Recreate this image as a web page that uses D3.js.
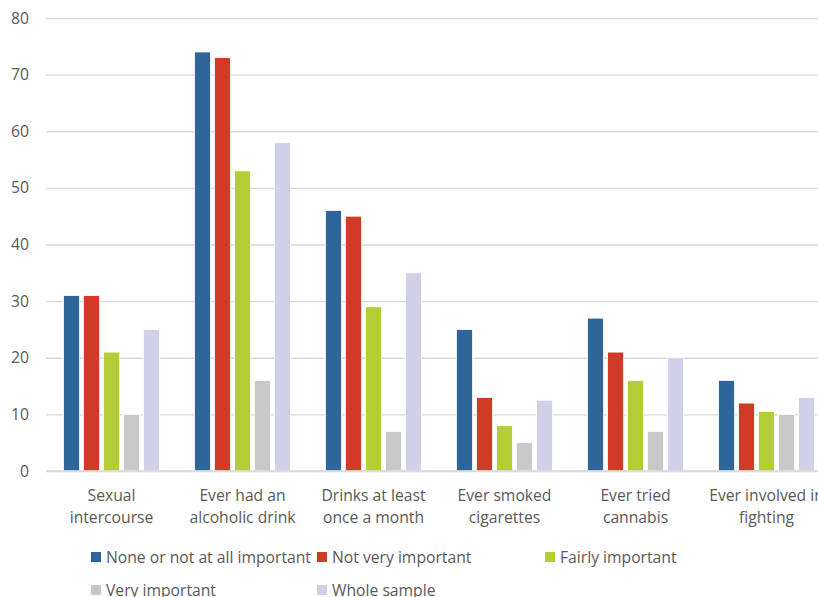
<!DOCTYPE html>
<html>
<head>
<meta charset="utf-8">
<script src="https://cdn.jsdelivr.net/npm/d3@7"></script>
<style>
  html, body { margin: 0; padding: 0; background: #fff; overflow: hidden; }
  svg { display: block; font-family: "Open Sans", sans-serif; }
</style>
</head>
<body>
<svg id="chart" width="818" height="597"></svg>
<script>
// Risk behaviours (%) by importance group
const categories = [
  ["Sexual", "intercourse"],
  ["Ever had an", "alcoholic drink"],
  ["Drinks at least", "once a month"],
  ["Ever smoked", "cigarettes"],
  ["Ever tried", "cannabis"],
  ["Ever involved in", "fighting"]
];
const seriesNames = [
  "None or not at all important",
  "Not very important",
  "Fairly important",
  "Very important",
  "Whole sample"
];
const noneOrNotAtAll = [31, 74, 46, 25, 27, 16];
const notVery        = [31, 73, 45, 13, 21, 12];
const fairly         = [21, 53, 29, 8, 16, 10.5];
const very           = [10, 16, 7, 5, 7, 10];
const wholeSample    = [25, 58, 35, 12.5, 20, 13];
const yTicks = [0, 10, 20, 30, 40, 50, 60, 70, 80];

const seriesValues = [noneOrNotAtAll, notVery, fairly, very, wholeSample];
const colors = ["#2f6699", "#d13a27", "#b4cc35", "#c8c8c8", "#d0d0e8"];
const fontSize = "15.7px";

const svg = d3.select("#chart");
const plotLeft = 46, plotRight = 832, plotTop = 18, plotBottom = 471;

const x0 = d3.scaleBand().domain(d3.range(categories.length)).range([plotLeft, plotRight])
  .paddingInner(0).paddingOuter(0);
const x1 = d3.scaleBand().domain(d3.range(seriesNames.length))
  .range([17.5, x0.bandwidth() - 17.5]).paddingInner(0.2).paddingOuter(0);
const y = d3.scaleLinear().domain([0, 80]).range([plotBottom, plotTop]);

// gridlines
const yAxis = d3.axisLeft(y).tickValues(yTicks).tickSize(-(plotRight - plotLeft)).tickPadding(17);
const gy = svg.append("g").attr("transform", `translate(${plotLeft},0)`).call(yAxis);
gy.select(".domain").remove();
gy.selectAll(".tick line").attr("stroke", "#d9d9d9").attr("stroke-width", 1.3);
gy.selectAll(".tick text").attr("fill", "#595959").style("font-size", fontSize)
  .style("font-family", "'Open Sans', sans-serif");

// bars
const groups = svg.append("g").selectAll("g")
  .data(categories.map((c, i) => i))
  .join("g")
  .attr("transform", i => `translate(${x0(i)},0)`);

groups.selectAll("rect")
  .data(i => seriesValues.map((vals, s) => ({ s, v: vals[i] })))
  .join("rect")
  .attr("x", d => x1(d.s))
  .attr("width", x1.bandwidth())
  .attr("y", d => y(d.v))
  .attr("height", d => y(0) - y(d.v))
  .attr("fill", d => colors[d.s])
  .attr("stroke", "#ffffff")
  .attr("stroke-width", 0.8);

// baseline
svg.append("line").attr("x1", plotLeft).attr("x2", plotRight)
  .attr("y1", y(0)).attr("y2", y(0))
  .attr("stroke", "#d9d9d9").attr("stroke-width", 1.3);

// category labels
const labels = svg.append("g").selectAll("text")
  .data(categories)
  .join("text")
  .attr("text-anchor", "middle")
  .attr("fill", "#595959")
  .style("font-size", fontSize)
  .attr("transform", (c, i) => `translate(${x0(i) + x0.bandwidth() / 2},0)`);
labels.selectAll("tspan")
  .data(c => c)
  .join("tspan")
  .attr("x", 0)
  .attr("y", (t, j) => 500.5 + j * 22.5)
  .text(t => t);

// legend
const legendPos = [[91, 557], [317, 557], [545, 557], [91, 590], [317, 590]];
const legend = svg.append("g").selectAll("g")
  .data(seriesNames)
  .join("g")
  .attr("transform", (n, i) => `translate(${legendPos[i][0]},${legendPos[i][1]})`);
legend.append("rect").attr("x", 0).attr("y", -5).attr("width", 10).attr("height", 10)
  .attr("fill", (n, i) => colors[i]);
legend.append("text").attr("x", 15).attr("y", 6)
  .attr("fill", "#595959").style("font-size", fontSize)
  .text(n => n);
</script>
</body>
</html>
